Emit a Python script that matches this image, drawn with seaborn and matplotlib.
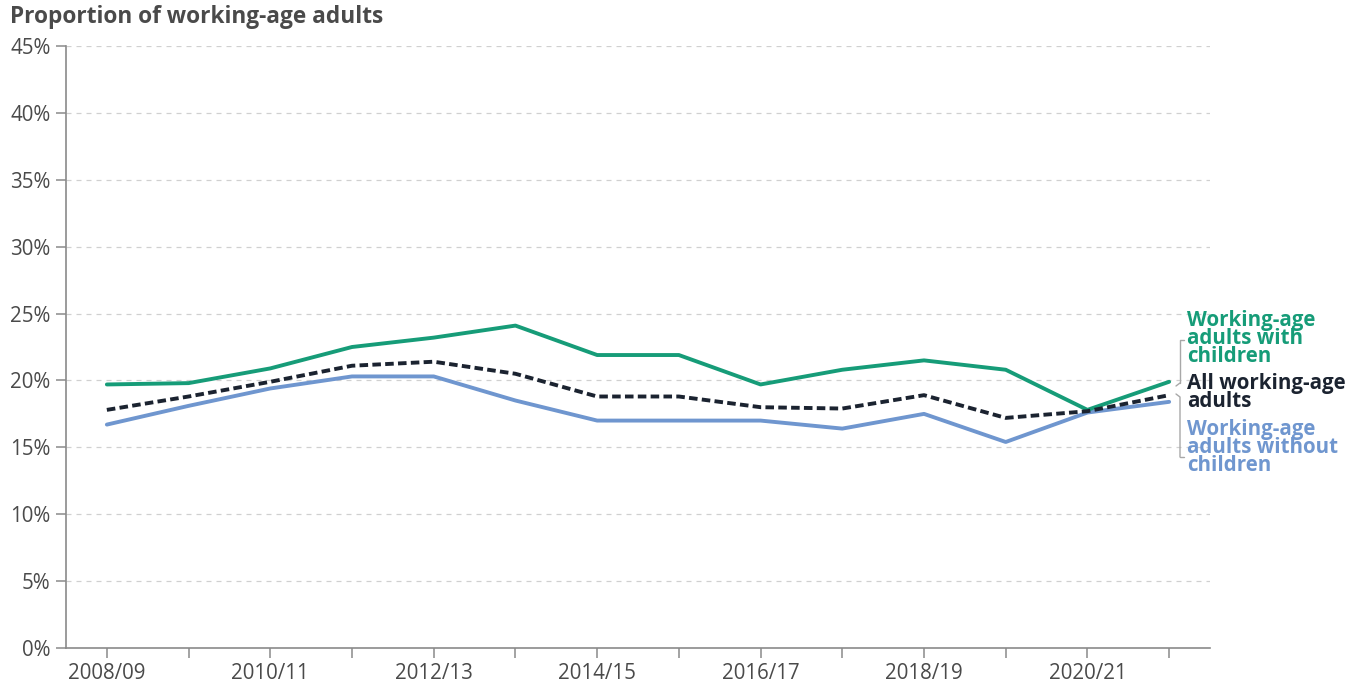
import matplotlib
matplotlib.use("Agg")
import matplotlib.pyplot as plt
import seaborn as sns
import pandas as pd
from matplotlib.lines import Line2D

years = ["2008/09", "2009/10", "2010/11", "2011/12", "2012/13", "2013/14", "2014/15",
         "2015/16", "2016/17", "2017/18", "2018/19", "2019/20", "2020/21", "2021/22"]
with_children = [19.7, 19.8, 20.9, 22.5, 23.2, 24.1, 21.9, 21.9, 19.7, 20.8, 21.5, 20.8, 17.8, 19.9]
all_adults = [17.8, 18.8, 19.9, 21.1, 21.4, 20.5, 18.8, 18.8, 18.0, 17.9, 18.9, 17.2, 17.7, 18.9]
without_children = [16.7, 18.1, 19.4, 20.3, 20.3, 18.5, 17.0, 17.0, 17.0, 16.4, 17.5, 15.4, 17.6, 18.4]
series_names = ["Working-age adults with children", "All working-age adults",
                "Working-age adults without children"]
label_texts = ["Working-age\nadults with\nchildren", "All working-age\nadults",
               "Working-age\nadults without\nchildren"]
y_ticks = [0, 5, 10, 15, 20, 25, 30, 35, 40, 45]

GREEN = "#169c78"
NAVY = "#1b2330"
BLUE = "#6f96cf"
GREY = "#8a8a8a"
TXT = "#4a4a4a"

sns.set_theme(style="white")
plt.rcParams["font.family"] = ["Open Sans", "DejaVu Sans"]

idx = list(range(len(years)))
df = pd.concat([
    pd.DataFrame({"x": idx, "value": with_children, "series": series_names[0]}),
    pd.DataFrame({"x": idx, "value": all_adults, "series": series_names[1]}),
    pd.DataFrame({"x": idx, "value": without_children, "series": series_names[2]}),
])

fig = plt.figure(figsize=(13.56, 6.84), dpi=100)
ax = fig.add_axes([66 / 1356, 1 - 648 / 684, (1210 - 66) / 1356, (648 - 46) / 684])

for name, col, ls in [(series_names[2], BLUE, "-"), (series_names[0], GREEN, "-"),
                      (series_names[1], NAVY, (0, (2.2, 1.1)))]:
    sub = df[df["series"] == name]
    sns.lineplot(data=sub, x="x", y="value", ax=ax, color=col, linewidth=2.8,
                 linestyle=ls, legend=False)

ax.set_xlim(-0.5, 13.5)
ax.set_ylim(0, 45)
ax.set_yticks(y_ticks)
ax.set_yticklabels([f"{t}%" for t in y_ticks])
ax.set_xticks(idx)
ax.set_xticklabels([y if i % 2 == 0 else "" for i, y in enumerate(years)])
ax.set_xlabel("")
ax.set_ylabel("")

for t in y_ticks[1:]:
    ax.axhline(t, color="#d0d0d0", linewidth=0.9, linestyle=(0, (4, 4)), zorder=0)

for s in ["top", "right"]:
    ax.spines[s].set_visible(False)
for s in ["left", "bottom"]:
    ax.spines[s].set_color(GREY)
    ax.spines[s].set_linewidth(1.2)

ax.tick_params(axis="both", which="both", direction="out", length=7, width=1.1,
               color=GREY, labelcolor=TXT, labelsize=14.8, pad=4, left=True, bottom=True)

fig.text(10 / 1356, 1 - 17 / 684, "Proportion of working-age adults", fontsize=16.3,
         fontweight="bold", color=TXT, va="center", ha="left")

lab_x = 1187 / 1356
for txt, col, ytop in [(label_texts[0], GREEN, 310), (label_texts[1], NAVY, 373),
                       (label_texts[2], BLUE, 419)]:
    fig.text(lab_x, 1 - ytop / 684, txt, color=col, fontsize=14.8, fontweight="bold",
             va="top", ha="left", linespacing=0.8)

bx = 1180 / 1356
def fy(p):
    return 1 - p / 684
conn = [
    ([bx + 4 / 1356, bx, bx], [fy(340), fy(340), fy(383)]),
    ([bx, bx - 4 / 1356], [fy(383), fy(386)]),
    ([bx - 4 / 1356, bx, bx], [fy(394), fy(397), fy(457)]),
    ([bx, bx + 4 / 1356], [fy(457), fy(457)]),
]
for xs, ys in conn:
    fig.add_artist(Line2D(xs, ys, color="#a8a8a8", linewidth=1.0, transform=fig.transFigure))

fig.savefig("out.png", dpi=100, facecolor="white")
